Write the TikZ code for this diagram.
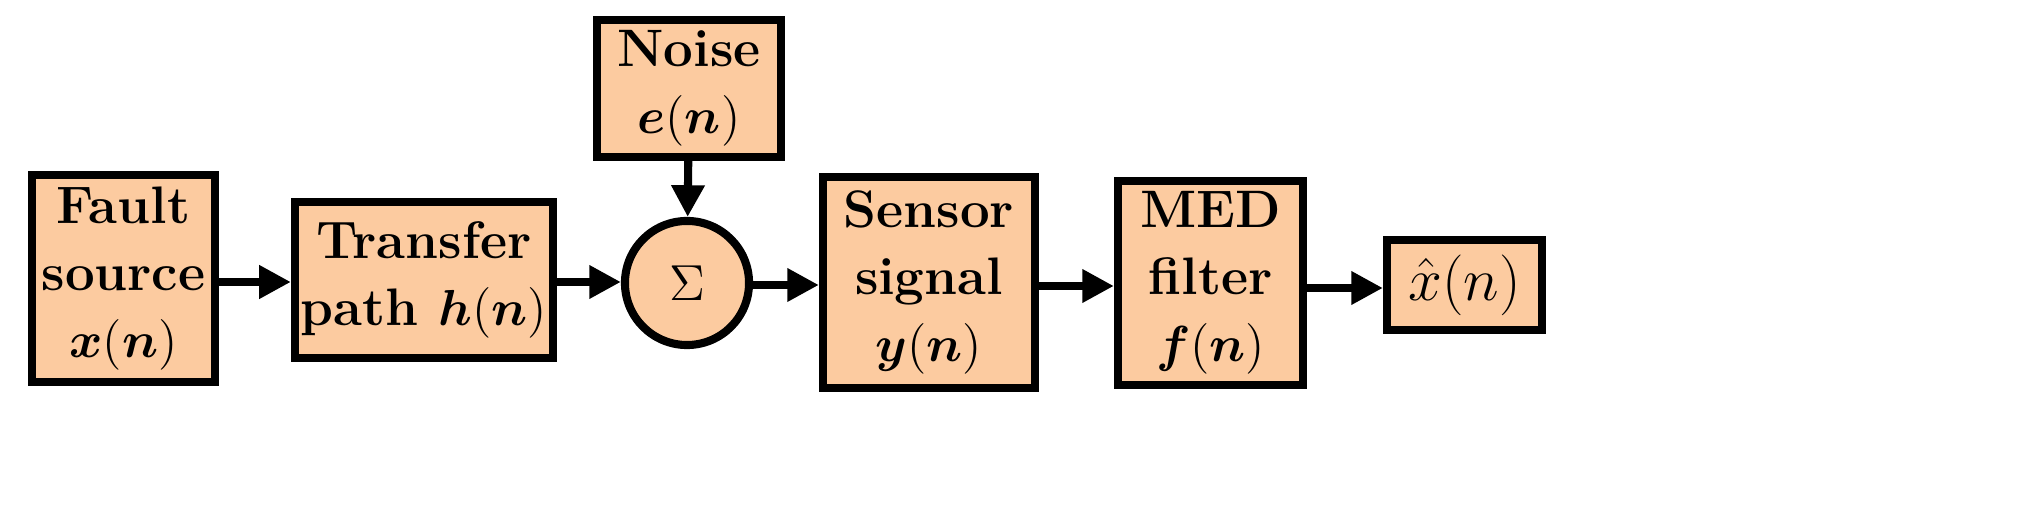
\documentclass[tikz,border=0pt]{standalone}
\usepackage{amsmath,bm}
\usetikzlibrary{arrows.meta}
\definecolor{peach}{HTML}{FCCBA0}
\begin{document}
\begin{tikzpicture}[x=0.01cm,y=-0.01cm,
 blk/.style={draw=black,line width=2.3pt,fill=peach,align=center,inner sep=0pt,
   font=\fontsize{15}{19}\selectfont\bfseries},
 arr/.style={line width=2.3pt,-{Triangle[length=9pt,width=9pt]}}]
\useasboundingbox (0,0) rectangle (2030,528);
\node[blk,minimum width=1.83cm,minimum height=2.07cm] (fault) at (123.5,278.5) {Fault\\source\\$\bm{x}(\bm{n})$};
\node[blk,minimum width=2.58cm,minimum height=1.56cm] (path) at (424,280) {Transfer\\path $\bm{h}(\bm{n})$};
\node[blk,minimum width=1.84cm,minimum height=1.37cm] (noise) at (689,88.5) {Noise\\$\bm{e}(\bm{n})$};
\node[blk,circle,minimum size=1.24cm,font=\fontsize{15}{19}\selectfont] (sum) at (687,283) {$\Sigma$};
\node[blk,minimum width=2.12cm,minimum height=2.11cm] (sensor) at (929,282.5) {Sensor\\signal\\$\bm{y}(\bm{n})$};
\node[blk,minimum width=1.85cm,minimum height=2.04cm] (med) at (1210.5,283) {MED\\filter\\$\bm{f}(\bm{n})$};
\node[blk,minimum width=1.55cm,minimum height=0.9cm,font=\fontsize{17}{19}\selectfont] (out) at (1464.5,285) {$\hat{x}(n)$};
\draw[arr] (fault.east |- 0,282) -- (path.west |- 0,282);
\draw[arr] (path.east |- 0,282) -- (sum.west |- 0,282);
\draw[arr] (noise) -- (sum);
\draw[arr] (sum.east |- 0,285) -- (sensor.west |- 0,285);
\draw[arr] (sensor.east |- 0,286) -- (med.west |- 0,286);
\draw[arr] (med.east |- 0,288) -- (out.west |- 0,288);
\end{tikzpicture}
\end{document}
